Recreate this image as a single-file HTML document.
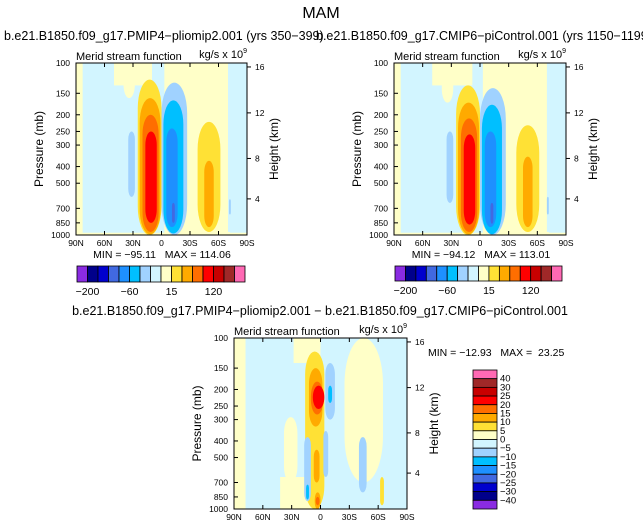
<!DOCTYPE html>
<html><head><meta charset="utf-8"><style>
body{margin:0;background:#fff;}
svg{display:block;font-family:"Liberation Sans",sans-serif;}
.pre{white-space:pre;}
</style></head><body>
<svg id="s" width="643" height="530" xmlns="http://www.w3.org/2000/svg">
<text x="321" y="18" font-size="16" text-anchor="middle">MAM</text>
<text x="4" y="40" font-size="12.5">b.e21.B1850.f09_g17.PMIP4−pliomip2.001 (yrs 350−399)</text>
<text x="316" y="40" font-size="12.5">b.e21.B1850.f09_g17.CMIP6−piControl.001 (yrs 1150−1199)</text>
<text x="320" y="315" font-size="12.5" text-anchor="middle">b.e21.B1850.f09_g17.PMIP4−pliomip2.001 − b.e21.B1850.f09_g17.CMIP6−piControl.001</text>
</svg>
<script>
const colors=["#8a2be2","#00008b","#0000cd","#4169e1","#1e90ff","#00bfff","#a0d2ff","#d2f5ff","#ffffc8","#ffe135","#ffaa00","#ff6e00","#ff0000","#c80000","#a02828","#ff69b4"];
const latTicks=[90,60,30,0,-30,-60,-90];
const latLabels=["90N","60N","30N","0","30S","60S","90S"];
const pTicks=[100,150,200,250,300,400,500,700,850,1000];
const kmTicks=[16,12,8,4];
const kmFrac=[0.023,0.29,0.555,0.79];
const fullLabels=["-200","-60","15","120"];
// blobs: [latNorth, latSouth, pTop, pBottom, colorIndex, rounded(1)/square(0)]
const blobsA=[
[90,83,100,1000,8,0],[50,10,100,135,8,0],[-3,-72,100,1000,8,0],[90,-90,970,1000,8,0],
[-70,-90,100,960,7,0],[40,28,100,160,8,1],
[25,0,125,1000,9,1],[23,1,160,990,10,1],[20,3,200,960,11,1],[17,5,250,850,12,1],
[0,-27,130,1000,6,1],[-2,-23,165,980,5,1],[-5,-17,240,900,4,1],[-11,-14,650,850,3,1],
[-38,-62,220,960,9,1],[-45,-55,370,900,10,1],
[35,28,250,600,6,1],[-71,-73,620,760,6,1]];
const blobsB=[
[90,83,100,1000,8,0],[50,8,100,135,8,0],[-3,-72,100,1000,8,0],[90,-90,970,1000,8,0],
[-70,-90,100,960,7,0],[40,28,100,170,8,1],
[25,0,135,1000,9,1],[23,1,170,990,10,1],[20,3,210,960,11,1],[17,5,260,870,12,1],
[0,-27,140,1000,6,1],[-2,-23,175,990,5,1],[-5,-17,250,900,4,1],[-11,-14,650,860,3,1],
[-38,-62,230,960,9,1],[-45,-55,350,900,10,1],
[35,28,250,650,6,1],[-70,-72,600,760,6,1]];
const blobsC=[
[90,78,100,1000,8,0],[38,24,290,700,8,1],[42,5,650,1000,8,0],[28,0,100,140,8,0],[-25,-65,100,700,8,1],
[16,-4,120,1000,9,1],[12,-2,150,330,10,1],[10,-3,180,280,11,1],[8,-4,190,260,12,1],
[10,-1,330,1000,9,1],[7,1,450,700,10,1],[6,0,800,1000,10,1],[5,1,850,950,11,1],
[-5,-15,140,300,6,1],[-8,-12,190,240,5,1],[-3,-8,350,650,6,1],[-40,-48,380,800,6,1],
[17,10,380,900,6,1],[15,12,720,880,5,1],[-62,-66,650,950,9,1]];
const diffLevels=["40","30","25","20","15","10","5","0","−5","−10","−15","−20","−25","−30","−40"];
const NS="http://www.w3.org/2000/svg";
const svg=document.getElementById('s');
function el(t,a,p){const e=document.createElementNS(NS,t);for(const k in a)e.setAttribute(k,a[k]);(p||svg).appendChild(e);return e;}
function panel(x0,y0,w,h,blobs,name){
  const X=lat=>x0+(90-lat)/180*w;
  const Y=p=>y0+Math.log10(p/100)*h;
  const g=el('g',{});
  
  
  const cp=el('clipPath',{id:'c'+name},g);el('rect',{x:x0,y:y0,width:w,height:h},cp);
  const fg=el('g',{'clip-path':'url(#c'+name+')'},g);
  el('rect',{x:x0,y:y0,width:w,height:h,fill:colors[7]},fg);
  blobs.forEach(b=>{
    const x1=X(b[0]),x2=X(b[1]),y1=Y(b[2]),y2=Y(b[3]);
    const bw=x2-x1,bh=y2-y1;
    const rx=b[5]?Math.min(bw/2,bh/2):0, ry=b[5]?Math.min(bh/2,bw*1.2):0;
    const r=el('rect',{x:x1,y:y1,width:bw,height:bh,rx:rx,ry:ry,fill:colors[b[4]]},fg);
    
    
  });
  el('rect',{x:x0,y:y0,width:w,height:h,fill:'none',stroke:'#000','stroke-width':1},g);
  latTicks.forEach((l,i)=>{
    el('line',{x1:X(l),x2:X(l),y1:y0+h,y2:y0+h-4,stroke:'#000'},g);
    el('line',{x1:X(l),x2:X(l),y1:y0,y2:y0+4,stroke:'#000'},g);
    const t=el('text',{x:X(l),y:y0+h+11,'font-size':8.5,'text-anchor':'middle'},g);t.textContent=latLabels[i];
    
    
  });
  pTicks.forEach(p=>{
    el('line',{x1:x0,x2:x0+4,y1:Y(p),y2:Y(p),stroke:'#000'},g);
    const t=el('text',{x:x0-6,y:Y(p)+3,'font-size':8.5,'text-anchor':'end'},g);t.textContent=p;
    
    
  });
  kmTicks.forEach((k,i)=>{
    const yy=y0+kmFrac[i]*h;
    el('line',{x1:x0+w,x2:x0+w+4,y1:yy,y2:yy,stroke:'#000'},g);
    const t=el('text',{x:x0+w+8,y:yy+3,'font-size':8.5},g);t.textContent=k;
    
    
  });
  const yl=x0-33;
  let t=el('text',{x:yl,y:y0+h/2,'font-size':12,'text-anchor':'middle',transform:`rotate(-90 ${yl} ${y0+h/2})`},g);t.textContent='Pressure (mb)';
  
  t=el('text',{x:x0+w+31,y:y0+h/2,'font-size':12,'text-anchor':'middle',transform:`rotate(-90 ${x0+w+31} ${y0+h/2})`},g);t.textContent='Height (km)';
  
  t=el('text',{x:x0,y:y0-3,'font-size':11},g);t.textContent='Merid stream function';
  
  t=el('text',{x:x0+w,y:y0-5,'font-size':11,'text-anchor':'end'},g);t.textContent='kg/s x 10';
  const s=el('tspan',{dy:-5,'font-size':7},t);s.textContent='9';
  
}
function hbar(x0,y0,w,h,name){
  const g=el('g',{});
  const bw=w/colors.length;
  colors.forEach((c,i)=>{const r=el('rect',{x:x0+i*bw,y:y0,width:bw,height:h,fill:c,stroke:'#000','stroke-width':0.8},g);
    });
  fullLabels.forEach((l,i)=>{const xi=[1,5,9,13][i];
    const t=el('text',{x:x0+xi*bw,y:y0+h+13,'font-size':10.5,'text-anchor':'middle'},g);t.textContent=l.replace('-','−');
    });
}
panel(76,63,171,172,blobsA,'left-panel');
panel(394,63,172,172,blobsB,'right-panel');
panel(234,338,173,171,blobsC,'diff-panel');
hbar(77,266,168,16,'left-colorbar');
hbar(395,266,167,15,'right-colorbar');
[[162,'MIN = −95.11   MAX = 114.06'],[481,'MIN = −94.12   MAX = 113.01']].forEach(a=>{
  const t=el('text',{x:a[0],y:258,'font-size':10.5,'text-anchor':'middle','class':'pre'});t.textContent=a[1];
  });
let tm=el('text',{x:428,y:356,'font-size':10.5,'class':'pre'});tm.textContent='MIN = −12.93   MAX =  23.25';

const vg=el('g',{});
const vx=473,vy=370,vw=24,vh=139,bh=vh/16;
for(let i=0;i<16;i++){const r=el('rect',{x:vx,y:vy+i*bh,width:vw,height:bh,fill:colors[15-i],stroke:'#000','stroke-width':0.8},vg);
  }
diffLevels.forEach((l,i)=>{const t=el('text',{x:vx+vw+3,y:vy+(i+1)*bh+3,'font-size':9.5},vg);t.textContent=l;
  });
</script>
</body></html>
